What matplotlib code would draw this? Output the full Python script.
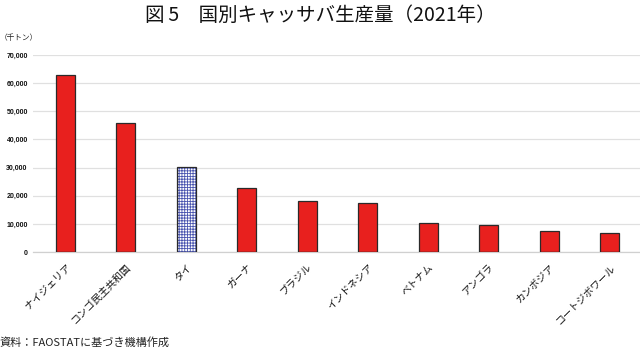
import matplotlib
matplotlib.use("Agg")
import matplotlib.pyplot as plt
import numpy as np

plt.rcParams['font.family'] = ['Noto Sans CJK JP', 'DejaVu Sans']
plt.rcParams['hatch.linewidth'] = 0.6

categories = ["ナイジェリア", "コンゴ民主共和国", "タイ", "ガーナ", "ブラジル",
              "インドネシア", "ベトナム", "アンゴラ", "カンボジア", "コートジボワール"]
values = [63000, 45700, 30100, 22600, 18000, 17500, 10400, 9700, 7600, 6900]
highlight = "タイ"
yticks = [0, 10000, 20000, 30000, 40000, 50000, 60000, 70000]
ytick_labels = ["0", "10,000", "20,000", "30,000", "40,000", "50,000", "60,000", "70,000"]

fig = plt.figure(figsize=(6.4, 3.51), dpi=100)
ax = fig.add_axes([0.052, 0.282, 0.948, 0.561])

x = np.arange(len(categories))
red_vals = [v if c != highlight else 0 for c, v in zip(categories, values)]
hl_vals = [v if c == highlight else 0 for c, v in zip(categories, values)]

ax.bar(x, red_vals, width=0.31, color="#E8201E", edgecolor="#2a2a2a", linewidth=0.9, zorder=3)
ax.bar(x, hl_vals, width=0.31, color="white", edgecolor="#4a55b0", hatch="++++++", linewidth=0, zorder=3)
ax.bar(x, hl_vals, width=0.31, fill=False, edgecolor="#2a2a2a", linewidth=0.9, zorder=4)

ax.set_xlim(-0.53, len(categories) - 0.5)
ax.set_ylim(0, 70000)
ax.set_yticks(yticks)
ax.set_yticklabels(ytick_labels, fontsize=5, color="#111111", fontweight='bold',
                   family=['Liberation Sans', 'DejaVu Sans'])
ax.tick_params(axis='y', length=0, pad=4)
ax.set_xticks(x)
ax.set_xticklabels(categories, rotation=45, ha='right', rotation_mode='anchor', fontsize=7.2, color="#111111")
ax.tick_params(axis='x', length=0, pad=7)
ax.grid(axis='y', color="#e0e0e0", linewidth=0.9, zorder=0)
for s in ["top", "right", "left"]:
    ax.spines[s].set_visible(False)
ax.spines["bottom"].set_color("#d0d0d0")
ax.spines["bottom"].set_linewidth(0.9)

fig.text(0.5, 0.956, "図\u20095　国別キャッサバ生産量（2021年）", ha='center', va='center', fontsize=14, color="#111111")
fig.text(0.0, 0.893, "（千トン）", ha='left', va='center', fontsize=5.5, color="#222222")
fig.text(0.0, 0.025, "資料：FAOSTATに基づき機構作成", ha='left', va='center', fontsize=8, color="#222222")

fig.savefig("out.png", dpi=100)
